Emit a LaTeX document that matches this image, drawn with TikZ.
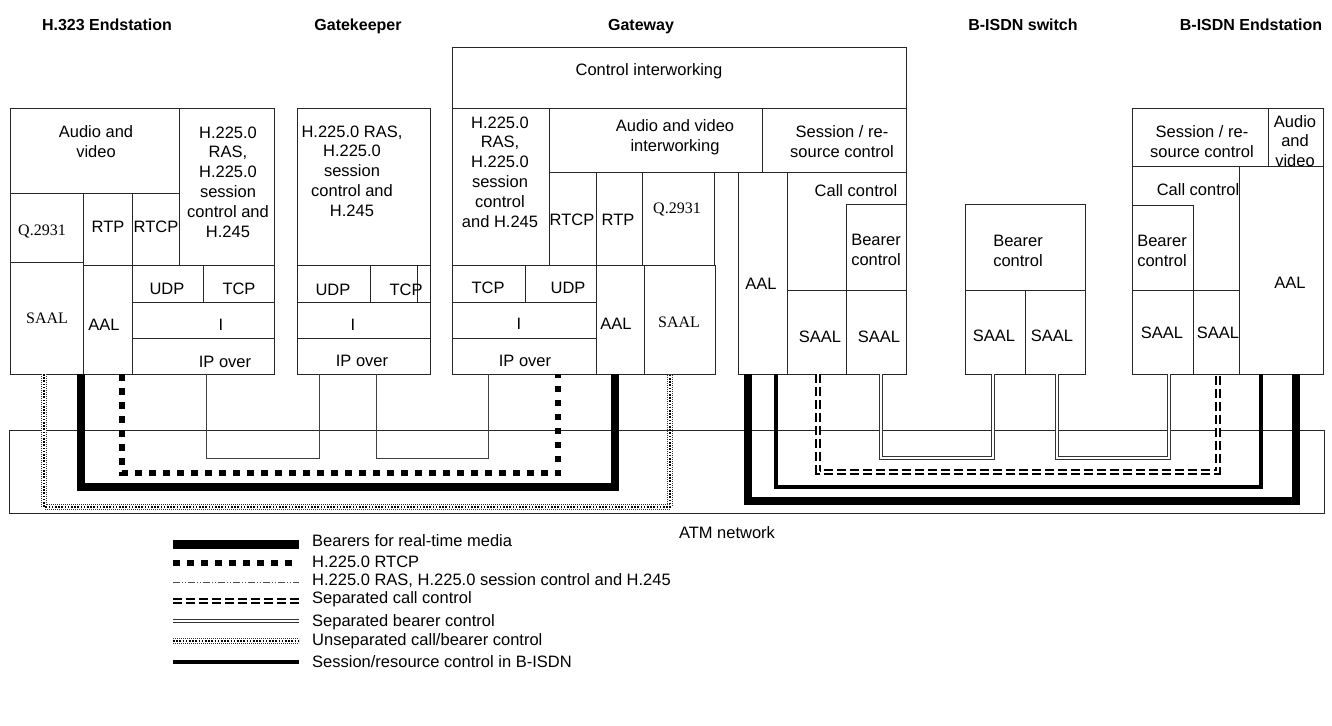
\documentclass[tikz,border=0pt]{standalone}
\usepackage{fontspec}
\setmainfont{Liberation Sans}
\newfontfamily\seriffont{Liberation Serif}
\newcommand\cell[5]{\node[cellst, minimum width={#4-#2}, minimum height={#5-#3}] (#1) at ({(#2+#4)/2},{(#3+#5)/2}) {};}
\newcommand\lab[4]{\node[lbl] (#1) at (#2,#3) {#4};}
\newcommand\slab[4]{\node[slbl] (#1) at (#2,#3) {#4};}
\begin{document}
\begin{tikzpicture}[x=1pt,y=-1pt,
  cellst/.style={draw=black!85, line width=0.8pt, inner sep=0pt, outer sep=0pt},
  lbl/.style={align=center, inner sep=0pt, font=\fontsize{16.5}{19.8}\selectfont},
  slbl/.style={align=center, inner sep=0pt, font=\seriffont\fontsize{16}{19}\selectfont},
  hdr/.style={anchor=base, inner sep=0pt, font=\fontsize{16}{19}\selectfont\bfseries},
  leg/.style={anchor=west, inner sep=0pt, font=\fontsize{16.5}{19.8}\selectfont},
  bearerst/.style={line width=8.5pt, black},
  rtcpst/.style={line width=6pt, black, dash pattern=on 6.5pt off 7.5pt},
  rasst/.style={line width=0.9pt, black!75},
  raslegst/.style={line width=0.7pt, black!70, dash pattern=on 7pt off 2pt on 1pt off 2pt on 1pt off 2pt},
  sepcallst/.style={line width=1.8pt, double distance=2.2pt, black, dash pattern=on 9pt off 4pt},
  sepbearst/.style={line width=1pt, double distance=2.5pt, black!80},
  unsepouter/.style={line width=0.8pt, double distance=4.6pt, black!80, dash pattern=on 0.8pt off 1.2pt},
  unsepinner/.style={line width=1.6pt, black, dash pattern=on 1.6pt off 1.6pt},
  sessst/.style={line width=4pt, black}
]
\useasboundingbox (0,0) rectangle (1332,725);

% ---------- headers
\node[hdr] (h1) at (107,31) {H.323 Endstation};
\node[hdr] (h2) at (358,31) {Gatekeeper};
\node[hdr] (h3) at (641,31) {Gateway};
\node[hdr] (h4) at (1023,31) {B-ISDN switch};
\node[hdr] (h5) at (1251,31) {B-ISDN Endstation};

% ---------- ATM network
\cell{atm}{9}{430}{1324}{513}
\lab{atmL}{727}{533}{ATM network}

% ---------- H.323 endstation
\cell{eAV}{10}{108}{179}{193}
\cell{eH}{179}{108}{274}{265}
\cell{eQ}{10}{193}{83}{262}
\cell{eRTP}{83}{193}{132}{265}
\cell{eRTCP}{132}{193}{179}{265}
\cell{eSAAL}{10}{262}{83}{374}
\cell{eAAL}{83}{265}{132}{374}
\cell{eUDP}{132}{265}{203}{302}
\cell{eTCP}{203}{265}{274}{302}
\cell{eI}{132}{302}{274}{338}
\cell{eIP}{132}{338}{274}{374}
\lab{leAV}{96}{142}{Audio and\\video}
\lab{leH}{228}{182}{H.225.0\\RAS,\\H.225.0\\session\\control and\\H.245}
\slab{leQ}{42}{231}{Q.2931}
\lab{leRTP}{108}{227}{RTP}
\lab{leRTCP}{156}{227}{RTCP}
\slab{leSAAL}{47}{318}{SAAL}
\lab{leAAL}{104}{325}{AAL}
\lab{leUDP}{167}{289}{UDP}
\lab{leTCP}{239}{289}{TCP}
\lab{leI}{221}{325}{I}
\lab{leIP}{225}{362}{IP over}

% ---------- Gatekeeper
\cell{kH}{297}{108}{430}{265}
\cell{kUDP}{297}{265}{370}{302}
\cell{kTCP}{370}{265}{417}{302}
\cell{kX}{417}{265}{430}{302}
\cell{kI}{297}{302}{430}{338}
\cell{kIP}{297}{338}{430}{374}
\lab{lkH}{352}{171}{H.225.0 RAS,\\H.225.0\\session\\control and\\H.245}
\lab{lkUDP}{333}{290}{UDP}
\lab{lkTCP}{406}{290}{TCP}
\lab{lkI}{353}{325}{I}
\lab{lkIP}{362}{361}{IP over}

% ---------- Gateway
\cell{gCI}{452}{47}{906}{108}
\cell{gH}{452}{108}{549}{265}
\cell{gAV}{549}{108}{762}{172}
\cell{gSR}{762}{108}{906}{172}
\cell{gRTCP}{549}{172}{596}{265}
\cell{gRTP}{596}{172}{642}{265}
\cell{gQ}{642}{172}{714}{265}
\cell{gTCP}{452}{265}{525}{302}
\cell{gUDP}{525}{265}{596}{302}
\cell{gI}{452}{302}{596}{338}
\cell{gIP}{452}{338}{596}{374}
\cell{gAAL}{596}{265}{644}{374}
\cell{gSAAL}{644}{265}{715}{374}
\cell{gAALb}{738}{172}{787}{374}
\cell{gCC}{787}{172}{906}{290}
\cell{gBC}{846}{204}{906}{290}
\cell{gSAALb}{787}{290}{846}{374}
\cell{gSAALc}{846}{290}{906}{374}
\lab{lgCI}{649}{71}{Control interworking}
\lab{lgH}{500}{172}{H.225.0\\RAS,\\H.225.0\\session\\control\\and H.245}
\lab{lgAV}{675}{137}{Audio and video\\interworking}
\lab{lgSR}{842}{142}{Session / re-\\source control}
\lab{lgRTCP}{572}{220}{RTCP}
\lab{lgRTP}{618}{220}{RTP}
\slab{lgQ}{677}{209}{Q.2931}
\lab{lgTCP}{488}{288}{TCP}
\lab{lgUDP}{568}{288}{UDP}
\lab{lgI}{519}{324}{I}
\lab{lgIP}{525}{361}{IP over}
\lab{lgAAL}{616}{324}{AAL}
\slab{lgSAAL}{679}{322}{SAAL}
\lab{lgAALb}{761}{284}{AAL}
\lab{lgCC}{856}{191}{Call control}
\lab{lgBC}{876}{250}{Bearer\\control}
\lab{lgSAALb}{820}{337}{SAAL}
\lab{lgSAALc}{879}{337}{SAAL}

% ---------- B-ISDN switch
\cell{sBC}{965}{204}{1085}{290}
\cell{sSA}{965}{290}{1025}{374}
\cell{sSB}{1025}{290}{1085}{374}
\lab{lsBC}{1018}{251}{Bearer\\control}
\lab{lsSA}{994}{336}{SAAL}
\lab{lsSB}{1052}{336}{SAAL}

% ---------- B-ISDN endstation
\cell{bSR}{1132}{108}{1268}{166}
\cell{bAV}{1268}{108}{1323}{166}
\cell{bCC}{1132}{166}{1239}{290}
\cell{bBC}{1132}{205}{1193}{290}
\cell{bAAL}{1239}{166}{1323}{374}
\cell{bSA}{1132}{290}{1193}{374}
\cell{bSB}{1193}{290}{1239}{374}
\lab{lbSR}{1202}{142}{Session / re-\\source control}
\begin{scope}
\clip (1268,108) rectangle (1323,166);
\lab{lbAV}{1295}{141}{Audio\\and\\video}
\end{scope}
\lab{lbCC}{1198}{190}{Call control}
\lab{lbBC}{1162}{251}{Bearer\\control}
\lab{lbAAL}{1290}{283}{AAL}
\lab{lbSA}{1162}{333}{SAAL}
\lab{lbSB}{1218}{333}{SAAL}

% ---------- connector end points
\coordinate (uL) at (44,374);   \coordinate (uR) at (670,374);
\coordinate (tL) at (81,374);   \coordinate (tR) at (615,374);
\coordinate (rL) at (122,374);  \coordinate (rR) at (558,374);
\coordinate (p1) at (206,374);  \coordinate (p2) at (319,374);
\coordinate (p3) at (376,374);  \coordinate (p4) at (488,374);
\coordinate (TL) at (748,374);  \coordinate (TR) at (1296,374);
\coordinate (sL) at (776,374);  \coordinate (sR) at (1261,374);
\coordinate (cL) at (818,374);  \coordinate (cR) at (1218,374);
\coordinate (q1) at (881,374);  \coordinate (q2) at (993,374);
\coordinate (q3) at (1057,374); \coordinate (q4) at (1169,374);

% ---------- connectors
\draw[rasst] (p1) -- ++(0,84) -| (p2);
\draw[rasst] (p3) -- ++(0,84) -| (p4);
\draw[sepbearst] (q1) -- ++(0,84) -| (q2);
\draw[sepbearst] (q3) -- ++(0,84) -| (q4);
\draw[sepcallst] (cL) -- ++(0,98) -| (cR);
\draw[sessst] (sL) -- ++(0,113) -| (sR);
\draw[bearerst] (TL) -- ++(0,127) -| (TR);
\draw[rtcpst] (rL) -- ++(0,99) -| (rR);
\draw[bearerst] (tL) -- ++(0,113) -| (tR);
\draw[unsepouter] (uL) -- ++(0,133) -| (uR);
\draw[unsepinner] (uL) -- ++(0,133) -| (uR);

% ---------- legend
\coordinate (a1) at (173,544); \coordinate (a2) at (299,544);
\coordinate (b1) at (173,563); \coordinate (b2) at (299,563);
\coordinate (c1) at (173,582); \coordinate (c2) at (299,582);
\coordinate (d1) at (173,601); \coordinate (d2) at (299,601);
\coordinate (e1) at (173,621); \coordinate (e2) at (299,621);
\coordinate (f1) at (173,641); \coordinate (f2) at (299,641);
\coordinate (g1) at (173,662); \coordinate (g2) at (299,662);
\draw[bearerst, line width=9pt] (a1) -- (a2);
\draw[rtcpst] (b1) -- (b2);
\draw[raslegst] (c1) -- (c2);
\draw[sepcallst] (d1) -- (d2);
\draw[sepbearst] (e1) -- (e2);
\draw[unsepouter] (f1) -- (f2);
\draw[unsepinner] (f1) -- (f2);
\draw[sessst] (g1) -- (g2);
\node[leg] (la) at (312,541) {Bearers for real-time media};
\node[leg] (lb) at (312,562) {H.225.0 RTCP};
\node[leg] (lc) at (312,581) {H.225.0 RAS, H.225.0 session control and H.245};
\node[leg] (ld) at (312,599) {Separated call control};
\node[leg] (le) at (312,622) {Separated bearer control};
\node[leg] (lf) at (312,641) {Unseparated call/bearer control};
\node[leg] (lg) at (312,662) {Session/resource control in B-ISDN};
\end{tikzpicture}
\end{document}
